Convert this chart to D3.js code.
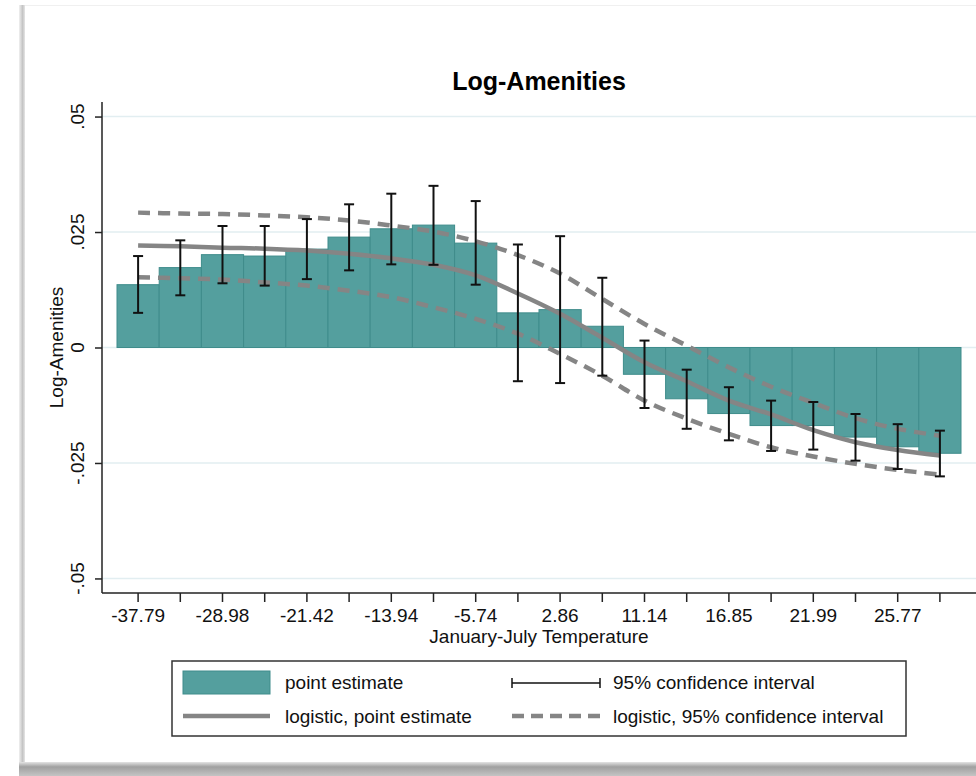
<!DOCTYPE html>
<html><head><meta charset="utf-8">
<script src="https://cdn.jsdelivr.net/npm/d3@7"></script>
<style>
html,body{margin:0;padding:0;background:#fff;}
svg{display:block;font-family:"Liberation Sans",Arial,Helvetica,sans-serif;}
</style>
</head><body>
<svg id="c" width="976" height="776"></svg>
<script>
// ---- data ----
const categories = [1,2,3,4,5,6,7,8,9,10,11,12,13,14,15,16,17,18,19,20];
const tickLabels = ["-37.79","","-28.98","","-21.42","","-13.94","","-5.74","","2.86","","11.14","","16.85","","21.99","","25.77",""];
const pointEst = [0.0136,0.0173,0.0201,0.0198,0.0213,0.0239,0.0257,0.0265,0.0226,0.0075,0.0082,0.0046,-0.0058,-0.0111,-0.0143,-0.0169,-0.0169,-0.0194,-0.0215,-0.0229];
const ciLow  = [0.0075,0.0113,0.0139,0.0134,0.0148,0.0167,0.0180,0.0179,0.0136,-0.0073,-0.0077,-0.0061,-0.0131,-0.0176,-0.0201,-0.0224,-0.0221,-0.0245,-0.0263,-0.0279];
const ciHigh = [0.0198,0.0232,0.0263,0.0263,0.0278,0.0310,0.0333,0.0350,0.0317,0.0223,0.0241,0.0151,0.0015,-0.0048,-0.0086,-0.0115,-0.0118,-0.0144,-0.0166,-0.0180];
const logitEst  = [0.0221,0.0219,0.0216,0.0214,0.0210,0.0203,0.0193,0.0179,0.0156,0.0117,0.0073,0.0021,-0.0032,-0.0073,-0.0115,-0.0145,-0.0179,-0.0205,-0.0222,-0.0234];
const logitHigh = [0.0292,0.0290,0.0289,0.0286,0.0282,0.0275,0.0264,0.0251,0.0230,0.0200,0.0160,0.0105,0.0051,0.0004,-0.0043,-0.0085,-0.0120,-0.0153,-0.0176,-0.0191];
const logitLow  = [0.0152,0.0150,0.0147,0.0141,0.0134,0.0123,0.0109,0.0087,0.0062,0.0030,-0.0014,-0.0061,-0.0115,-0.0154,-0.0187,-0.0216,-0.0236,-0.0252,-0.0265,-0.0275];
const yTicks = [-0.05,-0.025,0,0.025,0.05];
const yTickLabels = ["-.05","-.025","0",".025",".05"];
const legendItems = ["point estimate","95% confidence interval","logistic, point estimate","logistic, 95% confidence interval"];

// ---- styles ----
const BAR = "#549f9e", BAR_EDGE = "#3f8c8b", GRAY = "#858585", GRID = "#e2eef1";
const FS = 19;
const svg = d3.select("#c");

// frame / panel
const defs = svg.append("defs");
const g1 = defs.append("linearGradient").attr("id","shadow").attr("x1",0).attr("y1",0).attr("x2",0).attr("y2",1);
g1.append("stop").attr("offset","0").attr("stop-color","#e4e4e4");
g1.append("stop").attr("offset","0.35").attr("stop-color","#a0a0a0");
g1.append("stop").attr("offset","1").attr("stop-color","#c4c4c4");
const g2 = defs.append("linearGradient").attr("id","lshadow").attr("x1",0).attr("y1",0).attr("x2",1).attr("y2",0);
g2.append("stop").attr("offset","0").attr("stop-color","#f0f0f0");
g2.append("stop").attr("offset","0.6").attr("stop-color","#c4c4c4");
g2.append("stop").attr("offset","1").attr("stop-color","#e6e6e6");
svg.append("rect").attr("x",19).attr("y",5).attr("width",6).attr("height",757).attr("fill","url(#lshadow)");
svg.append("line").attr("x1",25).attr("x2",976).attr("y1",5.5).attr("y2",5.5).attr("stroke","#f0f0f0");
svg.append("rect").attr("x",19).attr("y",762).attr("width",957).attr("height",14).attr("fill","url(#shadow)");

// ---- scales ----
const plotL = 102, plotR = 976, plotT = 102, plotB = 593;
const x = d3.scaleBand().domain(categories).range([117, 961]).padding(0);
const y = d3.scaleLinear().domain([-0.05315, 0.05315]).range([plotB, plotT]);
const cx = d => x(d) + x.bandwidth()/2;

// gridlines
svg.append("g").selectAll("line").data(yTicks).join("line")
  .attr("x1", plotL).attr("x2", plotR)
  .attr("y1", d => y(d)).attr("y2", d => y(d))
  .attr("stroke", GRID).attr("stroke-width", 1.5);

// bars
svg.append("g").selectAll("rect").data(categories).join("rect")
  .attr("x", d => x(d))
  .attr("width", x.bandwidth())
  .attr("y", (d,i) => y(Math.max(0, pointEst[i])))
  .attr("height", (d,i) => Math.abs(y(pointEst[i]) - y(0)))
  .attr("fill", BAR).attr("stroke", BAR_EDGE).attr("stroke-width", 1);

// logistic lines
const line = (arr) => d3.line().x((d,i) => cx(categories[i])).y(d => y(d)).curve(d3.curveCatmullRom)(arr);
svg.append("path").attr("d", line(logitHigh)).attr("fill","none").attr("stroke",GRAY).attr("stroke-width",4.5).attr("stroke-dasharray","12,8");
svg.append("path").attr("d", line(logitLow)).attr("fill","none").attr("stroke",GRAY).attr("stroke-width",4.5).attr("stroke-dasharray","12,8");
svg.append("path").attr("d", line(logitEst)).attr("fill","none").attr("stroke",GRAY).attr("stroke-width",4.5);

// error bars
const eb = svg.append("g").attr("stroke","#111").attr("stroke-width",2);
categories.forEach((c,i) => {
  const xc = cx(c);
  eb.append("line").attr("x1",xc).attr("x2",xc).attr("y1",y(ciLow[i])).attr("y2",y(ciHigh[i]));
  eb.append("line").attr("x1",xc-5).attr("x2",xc+5).attr("y1",y(ciLow[i])).attr("y2",y(ciLow[i]));
  eb.append("line").attr("x1",xc-5).attr("x2",xc+5).attr("y1",y(ciHigh[i])).attr("y2",y(ciHigh[i]));
});

// ---- axes ----
const ax = svg.append("g").attr("stroke","#222").attr("stroke-width",1.5);
ax.append("line").attr("x1",plotL).attr("x2",plotL).attr("y1",plotT).attr("y2",plotB);
ax.append("line").attr("x1",plotL).attr("x2",plotR).attr("y1",plotB).attr("y2",plotB);

const yAxis = svg.append("g").attr("transform",`translate(${plotL},0)`)
  .call(d3.axisLeft(y).tickValues(yTicks).tickSize(7).tickFormat(""));
yAxis.select(".domain").remove();
yAxis.selectAll(".tick line").attr("stroke","#222").attr("stroke-width",1.5);
svg.append("g").selectAll("text").data(yTicks).join("text")
  .attr("transform", (d) => `translate(84,${y(d)}) rotate(-90)`)
  .attr("text-anchor","middle").attr("font-size",FS).attr("fill","#111")
  .text((d,i) => yTickLabels[i]);

const xAxis = svg.append("g").attr("transform",`translate(0,${plotB})`)
  .call(d3.axisBottom(x).tickSize(9).tickPadding(7).tickFormat((d,i) => tickLabels[i]));
xAxis.select(".domain").remove();
xAxis.selectAll(".tick line").attr("stroke","#222").attr("stroke-width",1.5);
xAxis.selectAll(".tick text").attr("font-size",FS).attr("fill","#111").attr("font-family",null);

// titles
svg.append("text").attr("x",539).attr("y",90).attr("text-anchor","middle")
  .attr("font-size",25).attr("font-weight","bold").attr("fill","#000").text("Log-Amenities");
svg.append("text").attr("x",539).attr("y",643).attr("text-anchor","middle")
  .attr("font-size",FS).attr("fill","#111").text("January-July Temperature");
svg.append("text").attr("transform","translate(63,347.5) rotate(-90)").attr("text-anchor","middle")
  .attr("font-size",FS).attr("fill","#111").text("Log-Amenities");

// ---- legend ----
const lg = svg.append("g");
lg.append("rect").attr("x",172).attr("y",661).attr("width",734).attr("height",75)
  .attr("fill","#fff").attr("stroke","#333").attr("stroke-width",1.5);
lg.append("rect").attr("x",183).attr("y",671).attr("width",87).attr("height",23)
  .attr("fill",BAR).attr("stroke",BAR_EDGE).attr("stroke-width",1);
lg.append("line").attr("x1",183).attr("x2",270).attr("y1",716).attr("y2",716)
  .attr("stroke",GRAY).attr("stroke-width",4.5);
const lc = lg.append("g").attr("stroke","#111").attr("stroke-width",1.5);
lc.append("line").attr("x1",512).attr("x2",600).attr("y1",683).attr("y2",683);
lc.append("line").attr("x1",512).attr("x2",512).attr("y1",678).attr("y2",688);
lc.append("line").attr("x1",600).attr("x2",600).attr("y1",678).attr("y2",688);
lg.append("line").attr("x1",512).attr("x2",600).attr("y1",716).attr("y2",716)
  .attr("stroke",GRAY).attr("stroke-width",4.5).attr("stroke-dasharray","12,7");
const lpos = [[285,689],[613,689],[285,723],[613,723]];
lg.selectAll("text.l").data(legendItems).join("text").attr("class","l")
  .attr("x",(d,i)=>lpos[i][0]).attr("y",(d,i)=>lpos[i][1])
  .attr("font-size",FS).attr("fill","#111").text(d=>d);
</script>
</body></html>
